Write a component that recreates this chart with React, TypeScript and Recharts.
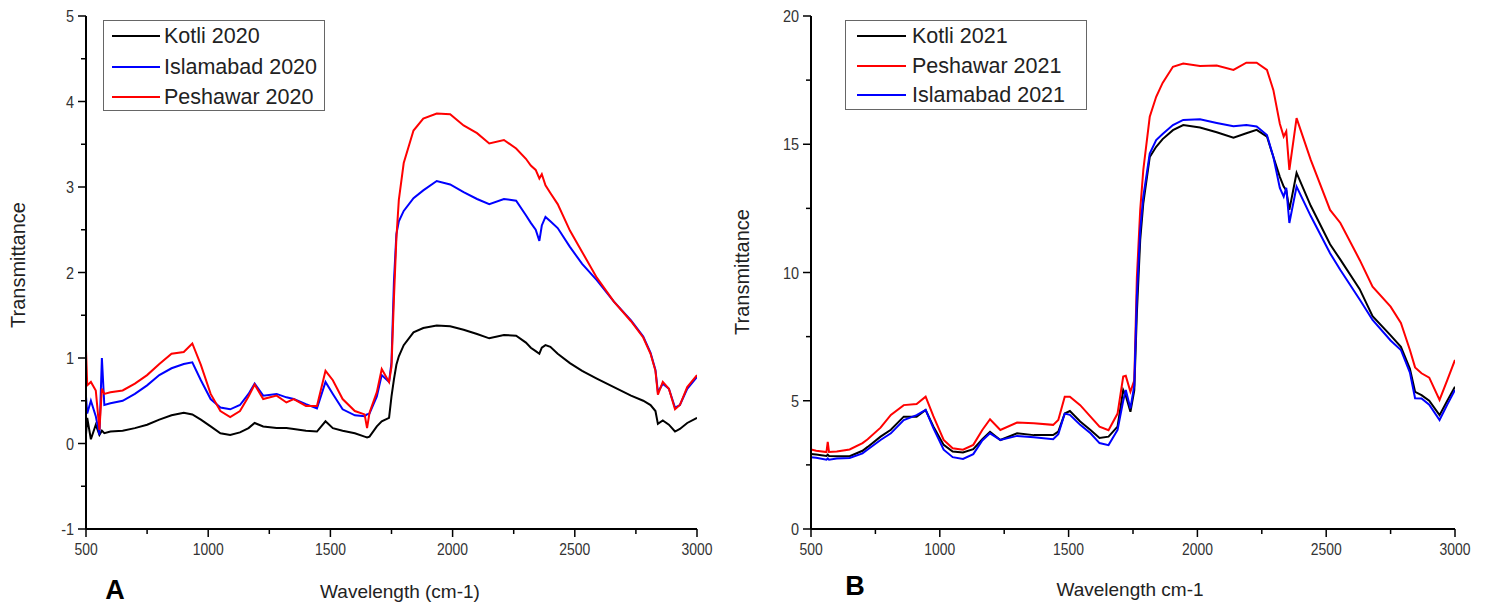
import { LineChart, Line, XAxis, YAxis } from 'recharts';

// ---- Panel A (2020) ----
const wavesA = [500, 505, 520, 540, 555, 565, 575, 600, 650, 700, 750, 800, 850, 900, 935, 970, 1010, 1050, 1090, 1130, 1165, 1190, 1225, 1280, 1320, 1350, 1400, 1445, 1480, 1510, 1550, 1600, 1640, 1650, 1660, 1690, 1710, 1740, 1750, 1760, 1770, 1780, 1800, 1840, 1880, 1935, 1990, 2045, 2100, 2150, 2210, 2260, 2300, 2320, 2340, 2355, 2365, 2380, 2400, 2430, 2480, 2530, 2590, 2660, 2730, 2780, 2810, 2830, 2840, 2860, 2885, 2910, 2930, 2960, 3000];
const kotli2020 = [0.1, 0.3, 0.05, 0.22, 0.1, 0.15, 0.12, 0.14, 0.15, 0.18, 0.22, 0.28, 0.33, 0.36, 0.34, 0.28, 0.2, 0.12, 0.1, 0.13, 0.18, 0.24, 0.2, 0.18, 0.18, 0.17, 0.15, 0.14, 0.26, 0.18, 0.15, 0.12, 0.08, 0.07, 0.08, 0.2, 0.26, 0.3, 0.55, 0.75, 0.92, 1.02, 1.15, 1.3, 1.35, 1.38, 1.37, 1.33, 1.28, 1.23, 1.27, 1.26, 1.18, 1.12, 1.08, 1.05, 1.12, 1.15, 1.13, 1.05, 0.94, 0.85, 0.76, 0.66, 0.56, 0.5, 0.45, 0.38, 0.23, 0.27, 0.22, 0.14, 0.17, 0.24, 0.3];
const islamabad2020 = [0.55, 0.35, 0.5, 0.32, 0.1, 1.0, 0.45, 0.47, 0.5, 0.58, 0.68, 0.8, 0.88, 0.93, 0.95, 0.74, 0.52, 0.42, 0.4, 0.45, 0.58, 0.7, 0.56, 0.58, 0.54, 0.52, 0.46, 0.41, 0.72, 0.58, 0.4, 0.33, 0.32, 0.34, 0.35, 0.55, 0.8, 0.72, 0.95, 1.9, 2.45, 2.6, 2.72, 2.87, 2.96, 3.07, 3.03, 2.94, 2.86, 2.8, 2.86, 2.84, 2.67, 2.58, 2.5, 2.37, 2.55, 2.65, 2.6, 2.52, 2.3, 2.1, 1.91, 1.66, 1.44, 1.25, 1.06, 0.86, 0.6, 0.7, 0.64, 0.42, 0.45, 0.64, 0.78];
const peshawar2020 = [1.1, 0.68, 0.72, 0.62, 0.16, 0.64, 0.58, 0.6, 0.62, 0.7, 0.8, 0.93, 1.05, 1.07, 1.17, 0.92, 0.58, 0.38, 0.31, 0.38, 0.55, 0.69, 0.52, 0.56, 0.48, 0.52, 0.44, 0.44, 0.85, 0.74, 0.52, 0.38, 0.34, 0.18, 0.36, 0.6, 0.87, 0.72, 0.9, 1.7, 2.4, 2.85, 3.28, 3.66, 3.8, 3.86, 3.85, 3.72, 3.63, 3.51, 3.55, 3.45, 3.33, 3.25, 3.2, 3.1, 3.15, 3.02, 2.93, 2.8, 2.49, 2.24, 1.94, 1.66, 1.43, 1.24, 1.05, 0.85, 0.57, 0.72, 0.64, 0.4, 0.45, 0.66, 0.8];

// ---- Panel B (2021) ----
const wavesB = [500, 520, 560, 565, 570, 600, 650, 700, 720, 770, 810, 860, 910, 945, 975, 1015, 1050, 1090, 1130, 1165, 1195, 1235, 1300, 1365, 1440, 1460, 1485, 1505, 1545, 1585, 1620, 1655, 1690, 1712, 1722, 1740, 1755, 1765, 1778, 1790, 1815, 1840, 1865, 1905, 1945, 2010, 2075, 2140, 2190, 2230, 2270, 2295, 2320, 2335, 2345, 2357, 2385, 2440, 2515, 2555, 2630, 2680, 2750, 2790, 2825, 2845, 2870, 2900, 2940, 2970, 3000];
const kotli2021 = [2.92, 2.9, 2.85, 2.9, 2.85, 2.84, 2.84, 3.05, 3.2, 3.6, 3.87, 4.38, 4.38, 4.64, 4.0, 3.28, 3.02, 2.98, 3.11, 3.5, 3.79, 3.47, 3.73, 3.66, 3.66, 3.8, 4.5, 4.6, 4.19, 3.86, 3.55, 3.6, 3.99, 5.42, 5.2, 4.57, 5.4, 8.42, 11.27, 12.7, 14.5, 14.9, 15.2, 15.55, 15.75, 15.65, 15.47, 15.26, 15.43, 15.56, 15.3, 14.5, 13.73, 13.35, 13.2, 12.44, 13.88, 12.6, 11.1, 10.5, 9.35, 8.3, 7.55, 7.1, 6.25, 5.35, 5.22, 5.0, 4.44, 5.0, 5.55];
const peshawar2021 = [3.1, 3.05, 3.0, 3.4, 3.0, 3.02, 3.1, 3.35, 3.5, 3.95, 4.45, 4.83, 4.87, 5.16, 4.4, 3.47, 3.15, 3.09, 3.28, 3.86, 4.28, 3.86, 4.15, 4.12, 4.06, 4.25, 5.16, 5.16, 4.83, 4.38, 3.99, 3.85, 4.5, 5.94, 5.97, 5.35, 5.8, 9.8, 12.44, 14.0, 16.07, 16.85, 17.39, 18.02, 18.15, 18.05, 18.07, 17.9, 18.18, 18.18, 17.9, 17.11, 15.8, 15.3, 15.5, 14.0, 16.02, 14.39, 12.44, 11.93, 10.49, 9.45, 8.67, 8.03, 6.98, 6.3, 6.07, 5.9, 5.03, 5.8, 6.59];
const islamabad2021 = [2.8, 2.78, 2.7, 2.75, 2.7, 2.75, 2.77, 2.95, 3.1, 3.47, 3.73, 4.25, 4.44, 4.64, 3.93, 3.09, 2.8, 2.73, 2.92, 3.45, 3.73, 3.47, 3.63, 3.58, 3.5, 3.7, 4.5, 4.45, 4.06, 3.73, 3.35, 3.27, 3.86, 5.0, 5.42, 4.7, 5.6, 9.07, 11.66, 12.96, 14.64, 15.16, 15.4, 15.75, 15.95, 15.97, 15.83, 15.7, 15.75, 15.69, 15.36, 14.5, 13.3, 12.96, 13.3, 11.93, 13.35, 12.2, 10.75, 10.1, 8.95, 8.15, 7.35, 6.98, 6.1, 5.1, 5.09, 4.85, 4.25, 4.85, 5.42];

const xTicks = [500, 750, 1000, 1250, 1500, 1750, 2000, 2250, 2500, 2750, 3000];
const yTicksA = [-1, -0.5, 0, 0.5, 1, 1.5, 2, 2.5, 3, 3.5, 4, 4.5, 5];
const yTicksB = [0, 2.5, 5, 7.5, 10, 12.5, 15, 17.5, 20];

const seriesA = [
    { key: 'kotli', name: 'Kotli 2020', color: '#000000', values: kotli2020 },
    { key: 'islamabad', name: 'Islamabad 2020', color: '#0000ff', values: islamabad2020 },
    { key: 'peshawar', name: 'Peshawar 2020', color: '#ff0000', values: peshawar2020 },
];
const seriesB = [
    { key: 'kotli', name: 'Kotli 2021', color: '#000000', values: kotli2021 },
    { key: 'peshawar', name: 'Peshawar 2021', color: '#ff0000', values: peshawar2021 },
    { key: 'islamabad', name: 'Islamabad 2021', color: '#0000ff', values: islamabad2021 },
];

const dataA = wavesA.map((w, i) => {
    const row: any = { w };
    seriesA.forEach(s => { row[s.key] = s.values[i]; });
    return row;
});
const dataB = wavesB.map((w, i) => {
    const row: any = { w };
    seriesB.forEach(s => { row[s.key] = s.values[i]; });
    return row;
});

const tickFont = { fontFamily: '"Liberation Sans", Arial, sans-serif', fontSize: 17, fill: '#333' };
const textFont = '"Liberation Sans", Arial, sans-serif';

// tick labels in the original are condensed, so squeeze them horizontally
const XTick = ({ x, y, payload }: any) => {
    const major = payload.value % 500 === 0;
    return (
        <g>
            <line x1={x} y1={y} x2={x} y2={y + (major ? 8 : 5)} stroke="#000" strokeWidth={1.5} />
            {major && <text transform={`translate(${x},${y + 26}) scale(0.82,1)`} textAnchor="middle" {...tickFont}>{payload.value}</text>}
        </g>
    );
};

const makeYTick = (step: number) => ({ x, y, payload }: any) => {
    const major = payload.value % step === 0;
    return (
        <g>
            <line x1={x} y1={y} x2={x - (major ? 8 : 5)} y2={y} stroke="#000" strokeWidth={1.5} />
            {major && <text transform={`translate(${x - 12},${y + 6}) scale(0.85,1)`} textAnchor="end" {...tickFont}>{payload.value}</text>}
        </g>
    );
};
const YTickA = makeYTick(1);
const YTickB = makeYTick(5);

function LegendBox({ series, left, width, height, lineLeft, lineWidth, textLeft, rows }: any) {
    return (
        <div style={{ position: 'absolute', left, top: 20, width, height, border: '1.5px solid #666', boxSizing: 'border-box', background: '#fff' }}>
            {series.map((s: any, i: number) => (
                <div key={s.key}>
                    <div style={{ position: 'absolute', left: lineLeft, top: rows[i] - 1, width: lineWidth, height: 2, background: s.color }} />
                    <div style={{ position: 'absolute', left: textLeft, top: rows[i] - 13, fontFamily: textFont, fontSize: 21.5, lineHeight: '26px', color: '#222', whiteSpace: 'nowrap' }}>{s.name}</div>
                </div>
            ))}
        </div>
    );
}

const abs = (left: number, top: number, extra: any = {}) => ({ position: 'absolute' as const, left, top, ...extra });

export default function App() {
    return (
        <div style={{ position: 'absolute', left: 0, top: 0, width: 1491, height: 611, background: '#fff', overflow: 'hidden' }}>
            <div style={abs(0, 0)}>
                <LineChart width={740} height={611} data={dataA} margin={{ top: 16, right: 43, bottom: 0, left: 0 }}>
                    <XAxis dataKey="w" type="number" domain={[500, 3000]} ticks={xTicks} interval={0} height={82}
                        axisLine={{ stroke: '#000', strokeWidth: 2 }} tickLine={false} tickSize={0} tickMargin={0} tick={<XTick />} allowDataOverflow />
                    <YAxis type="number" domain={[-1, 5]} ticks={yTicksA} interval={0} width={86}
                        axisLine={{ stroke: '#000', strokeWidth: 2 }} tickLine={false} tickSize={0} tickMargin={0} tick={<YTickA />} allowDataOverflow />
                    {seriesA.map(s => (
                        <Line key={s.key} dataKey={s.key} name={s.name} type="linear" stroke={s.color} strokeWidth={2} dot={false} isAnimationActive={false} />
                    ))}
                </LineChart>
            </div>
            <div style={abs(725, 0)}>
                <LineChart width={766} height={611} data={dataB} margin={{ top: 16, right: 36, bottom: 0, left: 0 }}>
                    <XAxis dataKey="w" type="number" domain={[500, 3000]} ticks={xTicks} interval={0} height={82}
                        axisLine={{ stroke: '#000', strokeWidth: 2 }} tickLine={false} tickSize={0} tickMargin={0} tick={<XTick />} allowDataOverflow />
                    <YAxis type="number" domain={[0, 20]} ticks={yTicksB} interval={0} width={86}
                        axisLine={{ stroke: '#000', strokeWidth: 2 }} tickLine={false} tickSize={0} tickMargin={0} tick={<YTickB />} allowDataOverflow />
                    {seriesB.map(s => (
                        <Line key={s.key} dataKey={s.key} name={s.name} type="linear" stroke={s.color} strokeWidth={2} dot={false} isAnimationActive={false} />
                    ))}
                </LineChart>
            </div>

            <LegendBox series={seriesA} left={103} width={222} height={91} lineLeft={8} lineWidth={48} textLeft={60} rows={[15, 46, 76]} />
            <LegendBox series={seriesB} left={845} width={242} height={90} lineLeft={11} lineWidth={49} textLeft={66} rows={[15, 45, 74]} />

            {/* axis titles */}
            <div style={abs(18, 265, { transform: 'translate(-50%, -50%) rotate(-90deg)', fontFamily: textFont, fontSize: 20, color: '#222', whiteSpace: 'nowrap' })}>Transmittance</div>
            <div style={abs(742, 272, { transform: 'translate(-50%, -50%) rotate(-90deg)', fontFamily: textFont, fontSize: 20, color: '#222', whiteSpace: 'nowrap' })}>Transmittance</div>
            <div style={abs(400, 592, { transform: 'translate(-50%, -50%)', fontFamily: textFont, fontSize: 19, color: '#222', whiteSpace: 'nowrap' })}>Wavelength (cm-1)</div>
            <div style={abs(1130, 590, { transform: 'translate(-50%, -50%)', fontFamily: textFont, fontSize: 19, color: '#222', whiteSpace: 'nowrap' })}>Wavelength cm-1</div>
            <div style={abs(115, 590, { transform: 'translate(-50%, -50%)', fontFamily: textFont, fontSize: 27, fontWeight: 'bold', color: '#000' })}>A</div>
            <div style={abs(855, 586, { transform: 'translate(-50%, -50%)', fontFamily: textFont, fontSize: 27, fontWeight: 'bold', color: '#000' })}>B</div>
        </div>
    );
}
